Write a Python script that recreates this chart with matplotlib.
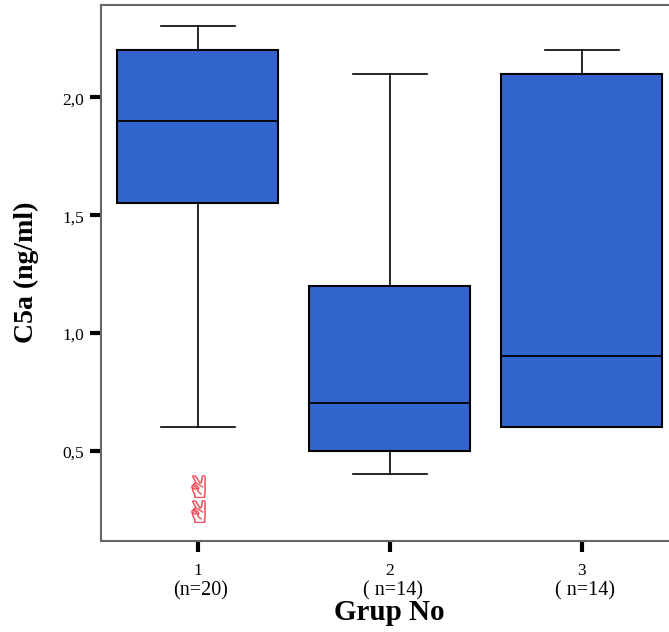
#!/usr/bin/env python3
"""Boxplot of C5a levels per group"""

import matplotlib
matplotlib.use('Agg')
import matplotlib.pyplot as plt
from matplotlib.font_manager import FontProperties
from matplotlib.textpath import TextPath
from matplotlib.ticker import FixedLocator, FuncFormatter
from matplotlib.transforms import Affine2D, ScaledTranslation

# values
groups = [1, 2, 3]
group_n = ['(n=20)', '( n=14)', '( n=14)']
whisker_low = [0.6, 0.4, 0.6]
q1 = [1.55, 0.5, 0.6]
median = [1.9, 0.7, 0.9]
q3 = [2.2, 1.2, 2.1]
whisker_high = [2.3, 2.1, 2.2]
outlier_group = [1, 1]
outlier_values = [0.35, 0.245]
y_ticks = [0.5, 1.0, 1.5, 2.0]

plt.rcParams['font.family'] = ['Liberation Serif', 'DejaVu Serif']

W, H = 669, 632
fig = plt.figure(figsize=(W / 100, H / 100), dpi=100)
ax = fig.add_axes([101 / W, 1 - 541 / H, 568 / W, 536 / H])

stats = []
for i in range(len(groups)):
    stats.append({
        'whislo': whisker_low[i], 'q1': q1[i], 'med': median[i],
        'q3': q3[i], 'whishi': whisker_high[i], 'fliers': [],
    })

ax.bxp(stats, positions=groups, widths=0.84, patch_artist=True,
       showfliers=False, capwidths=0.385,
       boxprops=dict(facecolor='#3366CC', edgecolor='black', linewidth=1.5),
       medianprops=dict(color='black', linewidth=1.3),
       whiskerprops=dict(color='black', linewidth=1.2),
       capprops=dict(color='black', linewidth=1.2))

# outliers are little red hands, glyph widened to look like the original
hand = TextPath((0, 0), '\u270c', size=10, prop=FontProperties(family='DejaVu Sans'))
box = hand.get_extents()
hand = hand.transformed(Affine2D()
                        .translate(-(box.x0 + box.x1) / 2, -(box.y0 + box.y1) / 2)
                        .scale(1.35, 1))
ax.plot(outlier_group, outlier_values, linestyle='none', marker=hand, markersize=23,
        markerfacecolor='#F5404F', markeredgecolor='#F5404F', markeredgewidth=0.2)

ax.set_xlim(0.496, 3.454)
ax.set_ylim(0.116, 2.391)

ax.yaxis.set_major_locator(FixedLocator(y_ticks))
ax.yaxis.set_major_formatter(FuncFormatter(lambda v, p: f'{v:.1f}'.replace('.', ',')))
ax.set_xticks(groups)
ax.set_xticklabels([str(g) for g in groups])
ax.tick_params(axis='both', length=8, width=3, color='black', labelsize=12.5, pad=4)
ax.tick_params(axis='x', pad=8)

# y labels sit a little below their ticks
for lab in ax.get_yticklabels():
    lab.set_transform(lab.get_transform() + ScaledTranslation(0, -1 / 72, fig.dpi_scale_trans))

# group sizes under the tick labels
trans = ax.get_xaxis_transform()
for g, label in zip(groups, group_n):
    ax.annotate(label, xy=(g, 0), xycoords=trans, xytext=(3, -40),
                textcoords='offset pixels', ha='center', va='top', fontsize=14.5)

for name in ['left', 'top', 'bottom']:
    ax.spines[name].set_color('#666666')
    ax.spines[name].set_linewidth(1.5)
ax.spines['right'].set_visible(False)

fig.text(389 / W, 1 - 612 / H, 'Grup No', fontsize=21, fontweight='bold',
         ha='center', va='center')
fig.text(26 / W, 1 - 272 / H, 'C5a (ng/ml)', fontsize=20, fontweight='bold',
         rotation=90, ha='center', va='center')

fig.savefig('out.png', dpi=100)
